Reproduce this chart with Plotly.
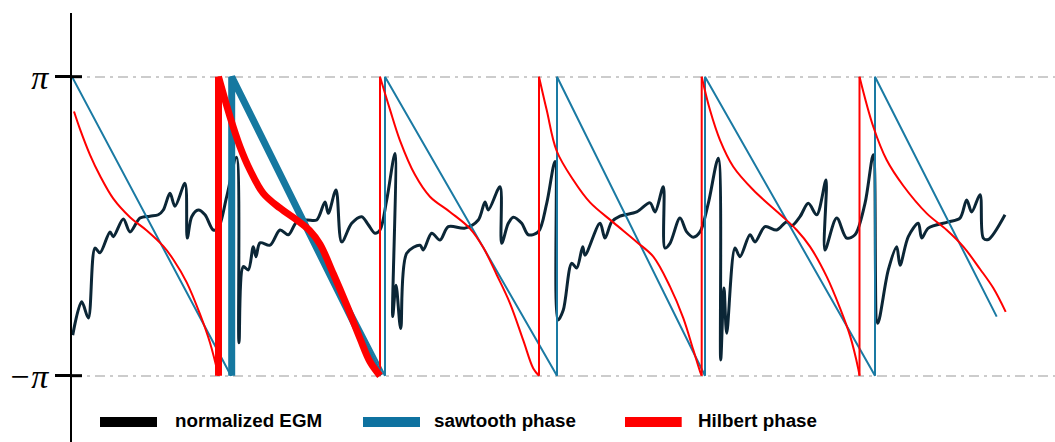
import numpy as np
import plotly.graph_objects as go

PI = np.pi

# Normalized EGM trace (time in ms, amplitude scaled to the phase axis)
egm_t = [0.7, 9.7, 16.3, 23, 28, 38, 41.3, 51.3, 58, 68, 78, 86.3, 91.3, 98, 103, 113,
         115.3, 119.7, 126.3, 133, 141.3, 146.3, 154.7, 164.5, 167, 171.3, 176.3, 181.3,
         184, 188, 198, 208, 216.3, 224.7, 234.7, 244.7, 253, 256.3, 264, 269.7, 279.7,
         289.7, 296.3, 303, 308, 314.7, 323, 320.7, 324, 328.7, 334.7, 348, 351.3, 359.7,
         368, 376.3, 393, 406.3, 413, 416.3, 428, 429.7, 436.3, 441.3, 449.7, 456.3,
         466.3, 474.7, 483, 486, 491.3, 499.7, 504.7, 510.7, 513, 528, 533, 539.7, 548,
         564.7, 578, 583, 591.3, 593, 598, 608, 614.7, 621.3, 628, 636.3, 646.3, 648.7,
         652, 654.7, 663, 668, 678, 683, 693, 704.7, 714.7, 719.7, 728, 736.3, 744.7,
         754, 753, 764.7, 774.7, 783, 793, 801.3, 805.7, 816.3, 824.7, 828, 836.3, 846.3,
         849.7, 856.3, 876.3, 888, 894.7, 899.7, 908, 911.3, 916.3, 933]
egm_v = [-2.29, -1.59, -1.93, -0.46, -0.56, -0.12, -0.22, 0.15, -0.12, 0.17, 0.21, 0.24,
         0.34, 0.69, 0.42, 0.90, -0.25, 0.20, 0.34, 0.24, -0.08, -0.04, 0.62, 1.45, -2.45,
         -0.85, -0.92, -0.43, -0.64, -0.35, -0.40, -0.08, -0.18, 0.09, 0.13, 0.13, 0.51,
         0.27, 0.76, -0.33, 0.06, 0.20, 0.03, -0.15, -0.08, 0.55, 1.53, -1.90, -1.24,
         -2.15, -0.57, -0.40, -0.50, -0.15, -0.29, -0.01, -0.04, 0.13, 0.51, 0.34, 0.83,
         -0.36, 0.06, 0.19, 0.06, -0.18, -0.12, 0.48, 1.36, -1.97, -1.76, -0.78, -0.88,
         -0.43, -0.61, 0.06, -0.25, 0.09, 0.21, 0.30, 0.49, 0.30, 0.83, -0.46, -0.36,
         0.17, -0.12, -0.23, -0.12, 0.48, 1.43, -2.81, -1.30, -2.25, -0.46, -0.64, -0.18,
         -0.33, -0.01, -0.08, 0.09, 0.01, 0.20, 0.48, 0.24, 0.97, -0.50, 0.17, -0.25,
         -0.18, 0.48, 1.50, -2.04, -0.92, -0.43, -0.82, -0.22, 0.06, -0.25, -0.04, 0.09,
         0.17, 0.55, 0.30, 0.66, -0.25, -0.28, 0.24]

# Sawtooth phase: linear ramps from pi down to -pi between activation times
saw_t = [0, 159, 159, 313, 313, 485, 485, 633, 633, 803, 803, 924.7]
saw_v = [PI, -PI, PI, -PI, PI, -PI, PI, -PI, PI, -PI, PI, -1.90]

# Hilbert phase samples (resets appear as repeated times)
hil_t = [2, 8, 18, 28, 41.3, 58, 74.7, 91.3, 101.3, 114.7, 128, 138, 146.5,
         146.5, 158, 168, 178, 191.3, 208, 224.7, 238, 248, 261.3, 274.7, 288, 298, 308,
         308, 318, 328, 343, 358, 378, 398, 411.3, 424.7, 438, 451.3, 461.3, 467,
         467, 474.7, 484.7, 501.3, 518, 541.3, 564.7, 581.3, 598, 611.3, 621.3, 628, 629.7,
         629.7, 638, 648, 661.3, 681.3, 708, 724.7, 738, 754.7, 768, 778, 786.3, 787.5,
         787.5, 801.3, 814.7, 831.3, 854.7, 874.7, 891.3, 908, 921.3, 933.7]
hil_v = [2.41, 2.04, 1.50, 1.06, 0.58, 0.19, -0.09, -0.42, -0.70, -1.18, -1.85, -2.45, -PI,
         PI, 2.30, 1.67, 1.18, 0.69, 0.38, 0.13, -0.10, -0.38, -1.00, -1.66, -2.36, -2.85, -PI,
         PI, 2.45, 1.80, 1.08, 0.62, 0.30, -0.05, -0.45, -1.02, -1.62, -2.40, -2.99, -PI,
         PI, 2.44, 1.58, 0.97, 0.50, 0.08, -0.33, -0.64, -1.27, -1.93, -2.60, -3.05, -PI,
         PI, 2.44, 1.81, 1.25, 0.76, 0.25, -0.08, -0.43, -1.06, -1.72, -2.30, -3.00, -PI,
         PI, 2.09, 1.39, 0.85, 0.27, -0.08, -0.43, -0.90, -1.30, -1.80]

# Highlighted cycle
hl_start_hilbert = 146.5
hl_start_saw = 159.7
hl_end = 308

legend_labels = ["normalized EGM", "sawtooth phase", "Hilbert phase"]

C_EGM = "#0b2636"
C_SAW = "#1a7aa3"
C_SAW_HL = "#1578a0"
C_HIL = "#ff0000"
LEGEND_COLORS = ["#000000", "#0e72a0", "#ff0000"]

X_RANGE = [0, 983]
Y_RANGE = [-4.535, 4.48]


def split_cycles(t, v):
    """Split the phase into smooth ramps (None gaps) and vertical reset segments."""
    ct, cv, rt, rv = [], [], [], []
    for i in range(len(t)):
        if i > 0 and v[i] - v[i - 1] > PI:
            ct.append(None)
            cv.append(None)
            rt += [t[i - 1], t[i], None]
            rv += [v[i - 1], v[i], None]
        ct.append(t[i])
        cv.append(v[i])
    return ct, cv, rt, rv


fig = go.Figure()

fig.add_trace(go.Scatter(x=egm_t, y=egm_v, mode="lines",
                         line=dict(color=C_EGM, width=3, shape="spline", smoothing=0.9)))

fig.add_trace(go.Scatter(x=saw_t, y=saw_v, mode="lines",
                         line=dict(color=C_SAW, width=2)))

ct, cv, rt, rv = split_cycles(hil_t, hil_v)
fig.add_trace(go.Scatter(x=ct, y=cv, mode="lines",
                         line=dict(color=C_HIL, width=2, shape="spline", smoothing=1)))
fig.add_trace(go.Scatter(x=rt, y=rv, mode="lines", line=dict(color=C_HIL, width=2)))

# Highlighted cycle, drawn thick
fig.add_trace(go.Scatter(x=[hl_start_saw, hl_start_saw, hl_end], y=[-PI, PI, -PI], mode="lines",
                         line=dict(color=C_SAW_HL, width=7)))
i0 = next(i for i in range(len(hil_t)) if hil_t[i] == hl_start_hilbert and hil_v[i] < 0)
i1 = next(i for i in range(len(hil_t)) if hil_t[i] == hl_end and hil_v[i] < 0)
sel_t = hil_t[i0:i1 + 1]
sel_v = hil_v[i0:i1 + 1]
fig.add_trace(go.Scatter(x=sel_t[1:], y=sel_v[1:], mode="lines",
                         line=dict(color=C_HIL, width=7, shape="spline", smoothing=1)))
fig.add_trace(go.Scatter(x=sel_t[:2], y=sel_v[:2], mode="lines",
                         line=dict(color=C_HIL, width=7)))

fig.update_traces(showlegend=False, hoverinfo="skip")

shapes = []
# tick marks crossing the axis
for yv in (-PI, PI):
    shapes.append(dict(type="line", xref="paper", yref="y", x0=0, x1=10 / 983, y0=yv, y1=yv,
                       line=dict(color="black", width=3)))

# legend
leg_x = [(100, 157, 172.7), (363, 420, 431.7), (625, 681.7, 695.7)]
annotations = []
for (x0, x1, xt), lab, col in zip(leg_x, legend_labels, LEGEND_COLORS):
    shapes.append(dict(type="rect", xref="paper", yref="paper",
                       x0=(x0 - 72) / 983, x1=(x1 - 72) / 983,
                       y0=(442 - 427) / 429, y1=(442 - 417) / 429,
                       fillcolor=col, line=dict(width=0)))
    annotations.append(dict(text=lab, xref="paper", yref="paper",
                            x=(xt - 72) / 983, y=(442 - 420.5) / 429,
                            xanchor="left", yanchor="middle", showarrow=False,
                            font=dict(family="Liberation Sans", size=18.8, color="black",
                                      weight="bold")))

fig.update_layout(
    width=1055, height=442,
    margin=dict(l=72, r=0, t=13, b=0),
    paper_bgcolor="white", plot_bgcolor="white",
    xaxis=dict(range=X_RANGE, visible=False),
    yaxis=dict(range=Y_RANGE, showline=True, linecolor="black", linewidth=2,
               tickvals=[-PI, PI], ticktext=["\u2212\u03c0", "\u03c0"],
               ticks="outside", ticklen=15, tickwidth=3, tickcolor="black",
               tickfont=dict(family="Liberation Serif", size=34, color="black", style="italic"),
               showgrid=True, gridcolor="#cccccc", gridwidth=2, griddash="10px,5px,3px,5px",
               zeroline=False),
    shapes=shapes,
    annotations=annotations,
)

fig.write_html("out.html")
